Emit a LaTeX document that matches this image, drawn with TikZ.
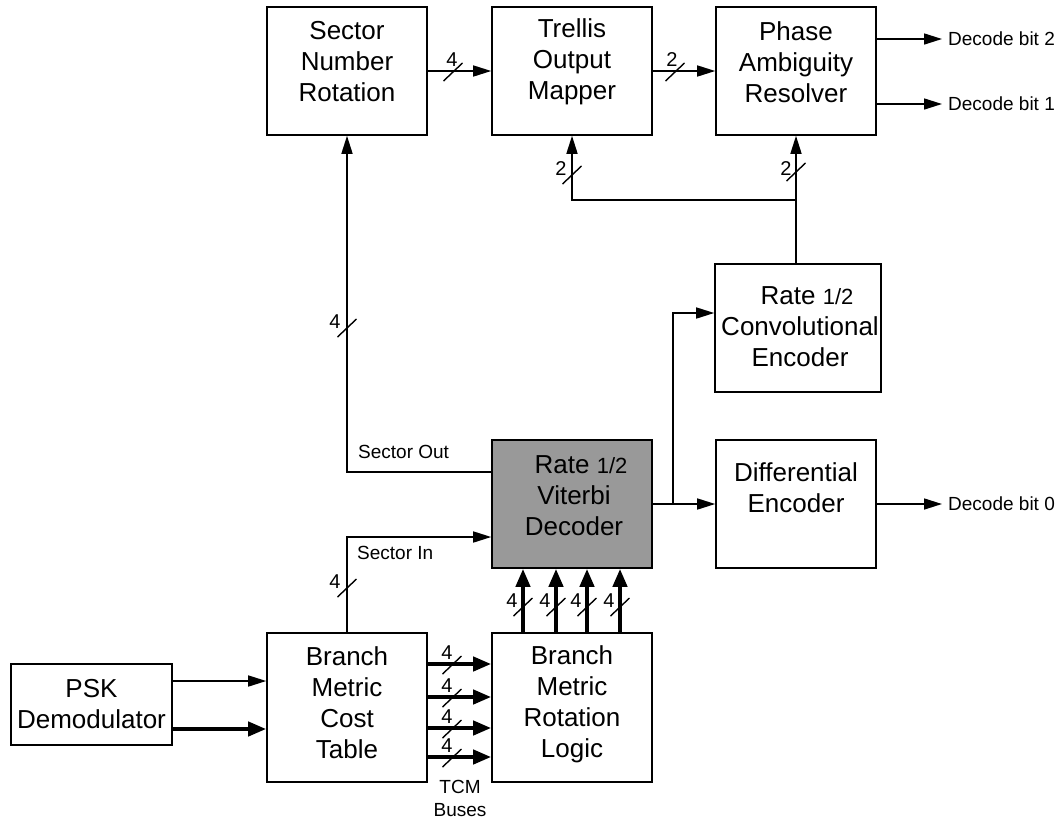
\documentclass[tikz,border=0pt]{standalone}
\usepackage{fontspec}
\setmainfont{Liberation Sans}
\usetikzlibrary{arrows.meta}
\definecolor{vitgray}{RGB}{153,153,153}
\begin{document}
\begin{tikzpicture}[x=1pt,y=-1pt,
  box/.style={draw, line width=1.6pt, inner sep=0pt, minimum width=160pt, minimum height=128pt},
  boxtext/.style={align=center, inner sep=0pt, font=\fontsize{26}{31}\selectfont},
  wire/.style={line width=1.6pt},
  arr/.style={wire, -{Triangle[length=18pt,width=11pt]}},
  thickarr/.style={line width=4pt, -{Triangle[length=18pt,width=14pt]}},
  small/.style={inner sep=0pt, font=\fontsize{19}{23}\selectfont},
  bitlbl/.style={inner sep=0pt, font=\fontsize{20}{20}\selectfont},
  busmark/.pic={\draw[line width=1.4pt] (-9.5,9) -- (9.5,-9);}
]
\useasboundingbox (0,0) rectangle (1060,820);

% boxes
\node[box] (snr) at (347,71) {};
\node[boxtext] (snrt) at (347,62) {Sector\\Number\\Rotation};
\node[box] (tom) at (572,71) {};
\node[boxtext] (tomt) at (572,62) {Trellis\\Output\\Mapper};
\node[box] (par) at (796,71) {};
\node[boxtext] (part) at (796,62) {Phase\\Ambiguity\\Resolver};
\node[box, minimum width=166pt] (conv) at (798,328) {};
\node[boxtext] (convt) at (800,327) {\hspace*{14pt}Rate {\fontsize{22}{31}\selectfont 1/2}\\Convolutional\\Encoder};
\node[box, fill=vitgray] (vit) at (572,504) {};
\node[boxtext] (vitt) at (574,496) {\hspace*{14pt}Rate {\fontsize{22}{31}\selectfont 1/2}\\Viterbi\\Decoder};
\node[box] (diff) at (796,504) {};
\node[boxtext] (difft) at (796,488) {Differential\\Encoder};
\node[box, minimum height=149pt] (bmct) at (347,707.5) {};
\node[boxtext] (bmctt) at (347,703) {Branch\\Metric\\Cost\\Table};
\node[box, minimum height=149pt] (bmrl) at (572,707.5) {};
\node[boxtext] (bmrlt) at (572,704) {Branch\\Metric\\Rotation\\Logic};
\node[box, minimum width=161pt, minimum height=81pt] (psk) at (91.5,704.5) {};
\node[boxtext] (pskt) at (91.5,704) {PSK\\Demodulator};

% helper coordinates
\coordinate (d2) at (942,39);
\coordinate (d1) at (942,104);
\coordinate (d0) at (942,504);
\coordinate (so) at (0,472);
\coordinate (si) at (0,537);
\coordinate (cw) at (0,313);
\coordinate (br) at (673,504);
\coordinate (jn) at (0,200);
\coordinate (p1) at (0,681);
\coordinate (p2) at (0,729);

% top row
\draw[arr] (snr.east) -- (tom.west);
\pic at (453,72) {busmark};
\node[bitlbl] (l1) at (452,60) {4};
\draw[arr] (tom.east) -- (par.west);
\pic at (675,72) {busmark};
\node[bitlbl] (l2) at (672,60) {2};

% decode bits
\draw[arr] (par.east |- d2) -- (d2);
\node[small, anchor=west] (t2) at (948,39) {Decode bit 2};
\draw[arr] (par.east |- d1) -- (d1);
\node[small, anchor=west] (t1) at (948,104) {Decode bit 1};
\draw[arr] (diff.east) -- (d0);
\node[small, anchor=west] (t0) at (948,504) {Decode bit 0};

% convolutional encoder feedback
\draw[arr] (par.south |- conv.north) -- (par.south);
\draw[arr] (par.south |- jn) -| (tom.south);
\pic at (572,175) {busmark};
\node[bitlbl] (l3) at (561,169) {2};
\pic at (796,172) {busmark};
\node[bitlbl] (l4) at (786,169) {2};

% sector out
\draw[arr] (vit.west |- so) -| (snr.south);
\pic at (347,328) {busmark};
\node[bitlbl] (l5) at (335,322) {4};
\node[small, anchor=west] (sot) at (358,452) {Sector Out};

% sector in
\draw[arr] (bmct.north) |- (vit.west |- si);
\pic at (347,588) {busmark};
\node[bitlbl] (l6) at (335,582) {4};
\node[small, anchor=west] (sit) at (357,553) {Sector In};

% viterbi outputs
\draw[arr] (vit.east) -- (diff.west);
\draw[arr] (br) |- (conv.west |- cw);

% rotation logic to viterbi
\foreach \x [count=\i] in {523,556,587,620} {
  \coordinate (vb\i) at (\x,0);
  \draw[thickarr] (bmrl.north -| vb\i) -- (vit.south -| vb\i);
  \pic at (\x,607) {busmark};
  \node[bitlbl] (lv\i) at (\x-11,601) {4};
}

% cost table to rotation logic
\foreach \y [count=\i] in {664,697,728,757} {
  \coordinate (hb\i) at (0,\y);
  \draw[thickarr] (bmct.east |- hb\i) -- (bmrl.west |- hb\i);
  \pic at (452,\y+1) {busmark};
  \node[bitlbl] (lh\i) at (447,\y-11) {4};
}
\node[small, align=center] (tcm) at (460,798) {TCM\\Buses};

% psk to cost table
\draw[arr] (psk.east |- p1) -- (bmct.west |- p1);
\draw[thickarr] (psk.east |- p2) -- (bmct.west |- p2);
\end{tikzpicture}
\end{document}
